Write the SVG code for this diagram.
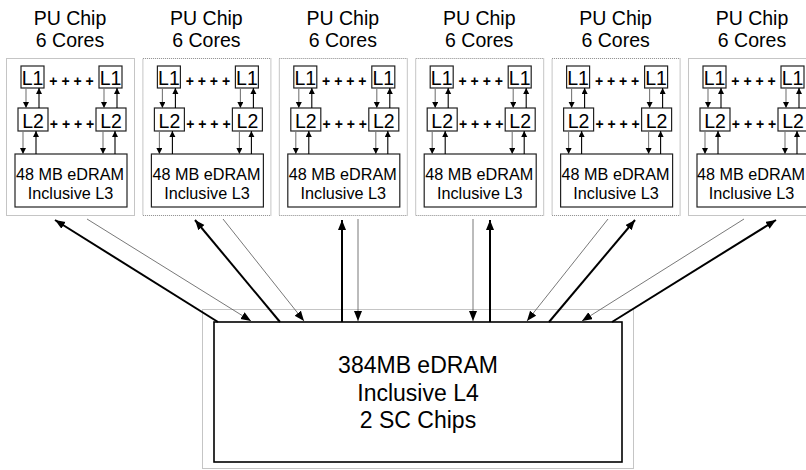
<svg xmlns="http://www.w3.org/2000/svg" width="806" height="470" viewBox="0 0 806 470">
  <style>
    text { font-family: "Liberation Sans", Arial, Helvetica, sans-serif; fill: #000; text-anchor: middle; }
    .title { font-size: 19.5px; }
    .lvl { font-size: 19.5px; }
    .plus { font-size: 14px; font-weight: bold; }
    .l3 { font-size: 16.2px; }
    .l4 { font-size: 23px; }
    .frame { fill: none; stroke: #8a8a8a; stroke-width: 1; stroke-dasharray: 1 1; }
    .box { fill: #fff; stroke: #222; stroke-width: 1.2; }
    .bigbox { fill: #fff; stroke: #000; stroke-width: 1.6; }
    .up { stroke: #000; stroke-width: 1.1; fill: none; }
    .dn { stroke: #777; stroke-width: 1.1; fill: none; }
    .thick { stroke: #000; stroke-width: 2; fill: none; }
    .thin { stroke: #555; stroke-width: 0.8; fill: none; }
  </style>
  <defs>
    <marker id="headS" markerUnits="userSpaceOnUse" markerWidth="7" markerHeight="7" refX="6" refY="3" orient="auto">
      <path d="M0,0 L6,3 L0,6 Z" fill="#000"/>
    </marker>
    <marker id="headB" markerUnits="userSpaceOnUse" markerWidth="11" markerHeight="9" refX="10" refY="4" orient="auto">
      <path d="M0,0 L10,4 L0,8 Z" fill="#000"/>
    </marker>
  </defs>

  <!-- PU chips: dotted package, two shown cores (L1/L2), shared L3 -->
  <g id="chip1" transform="translate(6,0)">
    <text class="title" x="64" y="25">PU Chip</text>
    <text class="title" x="64" y="47">6 Cores</text>
    <rect class="frame" x="0.5" y="58.5" width="128" height="157"/>
    <rect class="box" x="15" y="66" width="23" height="22"/>
    <rect class="box" x="93" y="66" width="23" height="22"/>
    <text class="lvl" x="26.5" y="84.5">L1</text>
    <text class="lvl" x="104.5" y="84.5">L1</text>
    <text class="plus" x="65.5" y="86">+ + + +</text>
    <rect class="box" x="12" y="108" width="30" height="23"/>
    <rect class="box" x="90" y="108" width="30" height="23"/>
    <text class="lvl" x="27" y="127.5">L2</text>
    <text class="lvl" x="105" y="127.5">L2</text>
    <text class="plus" x="66" y="129">+ + + +</text>
    <rect class="box" x="9" y="154" width="112" height="53"/>
    <text class="l3" x="64" y="180">48 MB eDRAM</text>
    <text class="l3" x="64.5" y="199">Inclusive L3</text>
    <line class="dn" x1="20" y1="88" x2="20" y2="108" marker-end="url(#headS)"/>
    <line class="up" x1="33" y1="108" x2="33" y2="88" marker-end="url(#headS)"/>
    <line class="dn" x1="98" y1="88" x2="98" y2="108" marker-end="url(#headS)"/>
    <line class="up" x1="111" y1="108" x2="111" y2="88" marker-end="url(#headS)"/>
    <line class="dn" x1="17" y1="131" x2="17" y2="154" marker-end="url(#headS)"/>
    <line class="up" x1="30" y1="154" x2="30" y2="131" marker-end="url(#headS)"/>
    <line class="dn" x1="97" y1="131" x2="97" y2="154" marker-end="url(#headS)"/>
    <line class="up" x1="109" y1="154" x2="109" y2="131" marker-end="url(#headS)"/>
  </g>

  <g id="chip2" transform="translate(142.4,0)">
    <text class="title" x="64" y="25">PU Chip</text>
    <text class="title" x="64" y="47">6 Cores</text>
    <rect class="frame" x="0.5" y="58.5" width="128" height="157"/>
    <rect class="box" x="15" y="66" width="23" height="22"/>
    <rect class="box" x="93" y="66" width="23" height="22"/>
    <text class="lvl" x="26.5" y="84.5">L1</text>
    <text class="lvl" x="104.5" y="84.5">L1</text>
    <text class="plus" x="65.5" y="86">+ + + +</text>
    <rect class="box" x="12" y="108" width="30" height="23"/>
    <rect class="box" x="90" y="108" width="30" height="23"/>
    <text class="lvl" x="27" y="127.5">L2</text>
    <text class="lvl" x="105" y="127.5">L2</text>
    <text class="plus" x="66" y="129">+ + + +</text>
    <rect class="box" x="9" y="154" width="112" height="53"/>
    <text class="l3" x="64" y="180">48 MB eDRAM</text>
    <text class="l3" x="64.5" y="199">Inclusive L3</text>
    <line class="dn" x1="20" y1="88" x2="20" y2="108" marker-end="url(#headS)"/>
    <line class="up" x1="33" y1="108" x2="33" y2="88" marker-end="url(#headS)"/>
    <line class="dn" x1="98" y1="88" x2="98" y2="108" marker-end="url(#headS)"/>
    <line class="up" x1="111" y1="108" x2="111" y2="88" marker-end="url(#headS)"/>
    <line class="dn" x1="17" y1="131" x2="17" y2="154" marker-end="url(#headS)"/>
    <line class="up" x1="30" y1="154" x2="30" y2="131" marker-end="url(#headS)"/>
    <line class="dn" x1="97" y1="131" x2="97" y2="154" marker-end="url(#headS)"/>
    <line class="up" x1="109" y1="154" x2="109" y2="131" marker-end="url(#headS)"/>
  </g>

  <g id="chip3" transform="translate(278.8,0)">
    <text class="title" x="64" y="25">PU Chip</text>
    <text class="title" x="64" y="47">6 Cores</text>
    <rect class="frame" x="0.5" y="58.5" width="128" height="157"/>
    <rect class="box" x="15" y="66" width="23" height="22"/>
    <rect class="box" x="93" y="66" width="23" height="22"/>
    <text class="lvl" x="26.5" y="84.5">L1</text>
    <text class="lvl" x="104.5" y="84.5">L1</text>
    <text class="plus" x="65.5" y="86">+ + + +</text>
    <rect class="box" x="12" y="108" width="30" height="23"/>
    <rect class="box" x="90" y="108" width="30" height="23"/>
    <text class="lvl" x="27" y="127.5">L2</text>
    <text class="lvl" x="105" y="127.5">L2</text>
    <text class="plus" x="66" y="129">+ + + +</text>
    <rect class="box" x="9" y="154" width="112" height="53"/>
    <text class="l3" x="64" y="180">48 MB eDRAM</text>
    <text class="l3" x="64.5" y="199">Inclusive L3</text>
    <line class="dn" x1="20" y1="88" x2="20" y2="108" marker-end="url(#headS)"/>
    <line class="up" x1="33" y1="108" x2="33" y2="88" marker-end="url(#headS)"/>
    <line class="dn" x1="98" y1="88" x2="98" y2="108" marker-end="url(#headS)"/>
    <line class="up" x1="111" y1="108" x2="111" y2="88" marker-end="url(#headS)"/>
    <line class="dn" x1="17" y1="131" x2="17" y2="154" marker-end="url(#headS)"/>
    <line class="up" x1="30" y1="154" x2="30" y2="131" marker-end="url(#headS)"/>
    <line class="dn" x1="97" y1="131" x2="97" y2="154" marker-end="url(#headS)"/>
    <line class="up" x1="109" y1="154" x2="109" y2="131" marker-end="url(#headS)"/>
  </g>

  <g id="chip4" transform="translate(415.2,0)">
    <text class="title" x="64" y="25">PU Chip</text>
    <text class="title" x="64" y="47">6 Cores</text>
    <rect class="frame" x="0.5" y="58.5" width="128" height="157"/>
    <rect class="box" x="15" y="66" width="23" height="22"/>
    <rect class="box" x="93" y="66" width="23" height="22"/>
    <text class="lvl" x="26.5" y="84.5">L1</text>
    <text class="lvl" x="104.5" y="84.5">L1</text>
    <text class="plus" x="65.5" y="86">+ + + +</text>
    <rect class="box" x="12" y="108" width="30" height="23"/>
    <rect class="box" x="90" y="108" width="30" height="23"/>
    <text class="lvl" x="27" y="127.5">L2</text>
    <text class="lvl" x="105" y="127.5">L2</text>
    <text class="plus" x="66" y="129">+ + + +</text>
    <rect class="box" x="9" y="154" width="112" height="53"/>
    <text class="l3" x="64" y="180">48 MB eDRAM</text>
    <text class="l3" x="64.5" y="199">Inclusive L3</text>
    <line class="dn" x1="20" y1="88" x2="20" y2="108" marker-end="url(#headS)"/>
    <line class="up" x1="33" y1="108" x2="33" y2="88" marker-end="url(#headS)"/>
    <line class="dn" x1="98" y1="88" x2="98" y2="108" marker-end="url(#headS)"/>
    <line class="up" x1="111" y1="108" x2="111" y2="88" marker-end="url(#headS)"/>
    <line class="dn" x1="17" y1="131" x2="17" y2="154" marker-end="url(#headS)"/>
    <line class="up" x1="30" y1="154" x2="30" y2="131" marker-end="url(#headS)"/>
    <line class="dn" x1="97" y1="131" x2="97" y2="154" marker-end="url(#headS)"/>
    <line class="up" x1="109" y1="154" x2="109" y2="131" marker-end="url(#headS)"/>
  </g>

  <g id="chip5" transform="translate(551.6,0)">
    <text class="title" x="64" y="25">PU Chip</text>
    <text class="title" x="64" y="47">6 Cores</text>
    <rect class="frame" x="0.5" y="58.5" width="128" height="157"/>
    <rect class="box" x="15" y="66" width="23" height="22"/>
    <rect class="box" x="93" y="66" width="23" height="22"/>
    <text class="lvl" x="26.5" y="84.5">L1</text>
    <text class="lvl" x="104.5" y="84.5">L1</text>
    <text class="plus" x="65.5" y="86">+ + + +</text>
    <rect class="box" x="12" y="108" width="30" height="23"/>
    <rect class="box" x="90" y="108" width="30" height="23"/>
    <text class="lvl" x="27" y="127.5">L2</text>
    <text class="lvl" x="105" y="127.5">L2</text>
    <text class="plus" x="66" y="129">+ + + +</text>
    <rect class="box" x="9" y="154" width="112" height="53"/>
    <text class="l3" x="64" y="180">48 MB eDRAM</text>
    <text class="l3" x="64.5" y="199">Inclusive L3</text>
    <line class="dn" x1="20" y1="88" x2="20" y2="108" marker-end="url(#headS)"/>
    <line class="up" x1="33" y1="108" x2="33" y2="88" marker-end="url(#headS)"/>
    <line class="dn" x1="98" y1="88" x2="98" y2="108" marker-end="url(#headS)"/>
    <line class="up" x1="111" y1="108" x2="111" y2="88" marker-end="url(#headS)"/>
    <line class="dn" x1="17" y1="131" x2="17" y2="154" marker-end="url(#headS)"/>
    <line class="up" x1="30" y1="154" x2="30" y2="131" marker-end="url(#headS)"/>
    <line class="dn" x1="97" y1="131" x2="97" y2="154" marker-end="url(#headS)"/>
    <line class="up" x1="109" y1="154" x2="109" y2="131" marker-end="url(#headS)"/>
  </g>

  <g id="chip6" transform="translate(688,0)">
    <text class="title" x="64" y="25">PU Chip</text>
    <text class="title" x="64" y="47">6 Cores</text>
    <rect class="frame" x="0.5" y="58.5" width="128" height="157"/>
    <rect class="box" x="15" y="66" width="23" height="22"/>
    <rect class="box" x="93" y="66" width="23" height="22"/>
    <text class="lvl" x="26.5" y="84.5">L1</text>
    <text class="lvl" x="104.5" y="84.5">L1</text>
    <text class="plus" x="65.5" y="86">+ + + +</text>
    <rect class="box" x="12" y="108" width="30" height="23"/>
    <rect class="box" x="90" y="108" width="30" height="23"/>
    <text class="lvl" x="27" y="127.5">L2</text>
    <text class="lvl" x="105" y="127.5">L2</text>
    <text class="plus" x="66" y="129">+ + + +</text>
    <rect class="box" x="9" y="154" width="112" height="53"/>
    <text class="l3" x="63" y="180">48 MB eDRAM</text>
    <text class="l3" x="63.5" y="199">Inclusive L3</text>
    <line class="dn" x1="20" y1="88" x2="20" y2="108" marker-end="url(#headS)"/>
    <line class="up" x1="33" y1="108" x2="33" y2="88" marker-end="url(#headS)"/>
    <line class="dn" x1="98" y1="88" x2="98" y2="108" marker-end="url(#headS)"/>
    <line class="up" x1="111" y1="108" x2="111" y2="88" marker-end="url(#headS)"/>
    <line class="dn" x1="17" y1="131" x2="17" y2="154" marker-end="url(#headS)"/>
    <line class="up" x1="30" y1="154" x2="30" y2="131" marker-end="url(#headS)"/>
    <line class="dn" x1="97" y1="131" x2="97" y2="154" marker-end="url(#headS)"/>
    <line class="up" x1="109" y1="154" x2="109" y2="131" marker-end="url(#headS)"/>
  </g>

  <!-- Shared L4 cache on the SC chips -->
  <g id="l4">
    <rect class="frame" x="202.5" y="309.5" width="431" height="159"/>
    <rect class="bigbox" x="214" y="322" width="408" height="140"/>
    <text class="l4" x="418" y="373">384MB eDRAM</text>
    <text class="l4" x="418" y="401">Inclusive L4</text>
    <text class="l4" x="418" y="428">2 SC Chips</text>
  </g>

  <!-- L3 <-> L4 links: thick = L4 to chip, thin = chip to L4 -->
  <g id="connectors">
    <line class="thick" x1="218" y1="322" x2="55" y2="220" marker-end="url(#headB)"/>
    <line class="thin" x1="87" y1="219" x2="251" y2="321" marker-end="url(#headB)"/>
    <line class="thick" x1="280" y1="322" x2="195" y2="220" marker-end="url(#headB)"/>
    <line class="thin" x1="223" y1="219" x2="304" y2="321" marker-end="url(#headB)"/>
    <line class="thick" x1="342" y1="322" x2="342" y2="220" marker-end="url(#headB)"/>
    <line class="thin" x1="358" y1="219" x2="358" y2="321" marker-end="url(#headB)"/>
    <line class="thin" x1="473" y1="219" x2="473" y2="321" marker-end="url(#headB)"/>
    <line class="thick" x1="490" y1="322" x2="490" y2="220" marker-end="url(#headB)"/>
    <line class="thin" x1="608" y1="219" x2="527" y2="321" marker-end="url(#headB)"/>
    <line class="thick" x1="549" y1="322" x2="635" y2="220" marker-end="url(#headB)"/>
    <line class="thin" x1="744" y1="219" x2="582" y2="321" marker-end="url(#headB)"/>
    <line class="thick" x1="612" y1="322" x2="776" y2="220" marker-end="url(#headB)"/>
  </g>
</svg>
